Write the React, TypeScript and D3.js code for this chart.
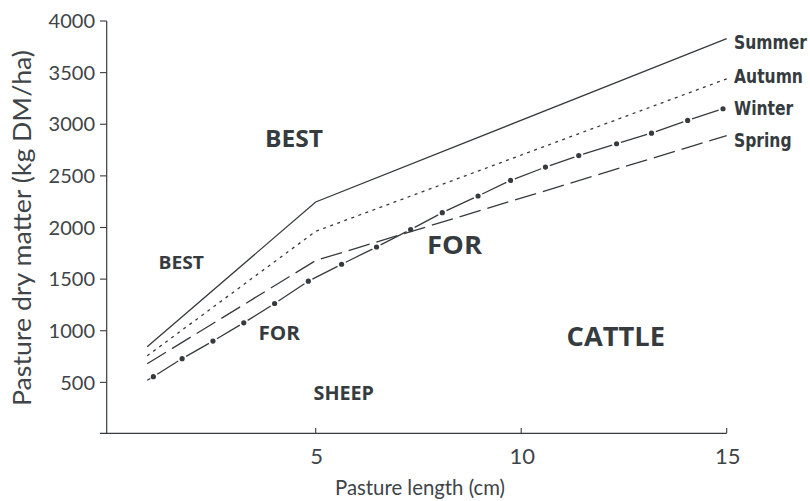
import React from "react";
import * as d3 from "d3";

const xTicks = [5, 10, 15];
const yTicks = [500, 1000, 1500, 2000, 2500, 3000, 3500, 4000];

const summerX = [0.9, 5, 15];
const summerY = [845, 2247, 3830];
const autumnX = [0.9, 5, 15];
const autumnY = [757, 1963, 3440];
const springX = [0.9, 5, 15];
const springY = [680, 1680, 2890];
const winterX = [0.9, 1.05, 1.75, 2.5, 3.25, 4.0, 4.82, 5.63, 6.48, 7.31, 8.08, 8.95, 9.74, 10.59, 11.4, 12.32, 13.17, 14.05, 14.91];
const winterY = [520, 555, 730, 900, 1077, 1264, 1480, 1644, 1811, 1980, 2144, 2305, 2456, 2585, 2697, 2811, 2914, 3037, 3150];

const seriesNames = ["Summer", "Autumn", "Winter", "Spring"];

const INK = "#353b3e";
const W = 810;
const H = 501;

const x = d3.scaleLinear().domain([0, 15]).range([110.2, 726.7]);
const y = d3.scaleLinear().domain([0, 4000]).range([434, 21]);

const lineGen = d3
  .line<[number, number]>()
  .x((d) => x(d[0]))
  .y((d) => y(d[1]));

function zip(xs: number[], ys: number[]): [number, number][] {
  return xs.map((v, i) => [v, ys[i]] as [number, number]);
}

export default function App() {
  const winterPts = zip(winterX, winterY).map((d) => [x(d[0]), y(d[1])]);
  const trim = 4.6;
  const winterSegs = winterPts.slice(1).map((p, i) => {
    const a = winterPts[i];
    const b = p;
    const dx = b[0] - a[0];
    const dy = b[1] - a[1];
    const len = Math.hypot(dx, dy);
    const ux = dx / len;
    const uy = dy / len;
    const ta = i === 0 ? 0 : trim;
    const tb = i === 0 ? 3.5 : trim;
    return {
      x1: a[0] + ux * ta,
      y1: a[1] + uy * ta,
      x2: b[0] - ux * tb,
      y2: b[1] - uy * tb,
    };
  });

  const tickFont = "Lato, 'Open Sans', sans-serif";
  const boldFont = "'Open Sans', Lato, sans-serif";
  const condFont = "'DejaVu Sans', sans-serif";

  return (
    <div style={{ position: "absolute", left: 0, top: 0 }}>
      <svg width={W} height={H} style={{ display: "block", background: "#fff" }}>
        {/* axes */}
        <line x1={106.7} y1={21} x2={106.7} y2={433.3} stroke={INK} strokeWidth={1.2} />
        <line x1={100} y1={433.3} x2={x(15)} y2={433.3} stroke={INK} strokeWidth={1.2} />
        {yTicks.map((t) => (
          <g key={t}>
            <line x1={100} x2={106.7} y1={y(t)} y2={y(t)} stroke={INK} strokeWidth={1.1} />
            <text
              x={95}
              y={y(t)}
              dy="0.36em"
              textAnchor="end"
              fontFamily={tickFont}
              fontWeight={400}
              fontSize={20}
              fill="#3e4447"
            >
              {t}
            </text>
          </g>
        ))}
        {xTicks.map((t) => (
          <g key={t}>
            <line x1={x(t)} x2={x(t)} y1={433.3} y2={428} stroke={INK} strokeWidth={1.1} />
            <text
              x={x(t) + 1}
              y={464}
              textAnchor="middle"
              fontFamily={tickFont}
              fontWeight={400}
              fontSize={22}
              fill="#3e4447"
            >
              {t}
            </text>
          </g>
        ))}
        <text
          x={335}
          y={495}
          textLength={170}
          lengthAdjust="spacingAndGlyphs"
          fontFamily={tickFont}
          fontWeight={400}
          fontSize={21}
          fill="#3e4447"
        >
          Pasture length (cm)
        </text>
        <text
          transform="translate(31,228) rotate(-90)"
          textAnchor="middle"
          textLength={356}
          lengthAdjust="spacingAndGlyphs"
          fontFamily={tickFont}
          fontWeight={400}
          fontSize={25}
          fill="#3e4447"
        >
          Pasture dry matter (kg DM/ha)
        </text>

        {/* series */}
        <path d={lineGen(zip(summerX, summerY)) || ""} fill="none" stroke={INK} strokeWidth={1.3} />
        <path
          d={lineGen(zip(autumnX, autumnY)) || ""}
          fill="none"
          stroke={INK}
          strokeWidth={1.3}
          strokeDasharray="3,4.5"
        />
        <path
          d={lineGen(zip(springX, springY)) || ""}
          fill="none"
          stroke={INK}
          strokeWidth={1.3}
          strokeDasharray="22,7"
        />
        {winterSegs.map((s, i) => (
          <line key={i} x1={s.x1} y1={s.y1} x2={s.x2} y2={s.y2} stroke={INK} strokeWidth={1.3} />
        ))}
        {winterPts.slice(1).map((p, i) => (
          <circle key={i} cx={p[0]} cy={p[1]} r={2.6} fill={INK} />
        ))}

        {/* series labels */}
        {seriesNames.map((n, i) => (
          <g key={n} transform={`translate(734,${[49, 83, 115, 147][i]}) scale(0.82,1)`}>
            <text
              x={0}
              y={0}
              fontFamily={condFont}
              fontWeight={700}
              fontSize={19}
              fill={INK}
            >
              {n}
            </text>
          </g>
        ))}

        {/* annotations */}
        <text x={265} y={147} textLength={58} lengthAdjust="spacingAndGlyphs" fontFamily={boldFont} fontWeight={700} fontSize={24} fill={INK}>BEST</text>
        <text x={158.5} y={268.5} textLength={45.5} lengthAdjust="spacingAndGlyphs" fontFamily={boldFont} fontWeight={700} fontSize={18} fill={INK}>BEST</text>
        <text x={258.5} y={340} textLength={41.5} lengthAdjust="spacingAndGlyphs" fontFamily={boldFont} fontWeight={700} fontSize={19} fill={INK}>FOR</text>
        <text x={427} y={253.5} textLength={55} lengthAdjust="spacingAndGlyphs" fontFamily={boldFont} fontWeight={700} fontSize={25} fill={INK}>FOR</text>
        <text x={313.5} y={399.5} textLength={60.5} lengthAdjust="spacingAndGlyphs" fontFamily={boldFont} fontWeight={700} fontSize={19.5} fill={INK}>SHEEP</text>
        <text x={566.5} y={346} textLength={98.5} lengthAdjust="spacingAndGlyphs" fontFamily={boldFont} fontWeight={700} fontSize={26} fill={INK}>CATTLE</text>
      </svg>
    </div>
  );
}
